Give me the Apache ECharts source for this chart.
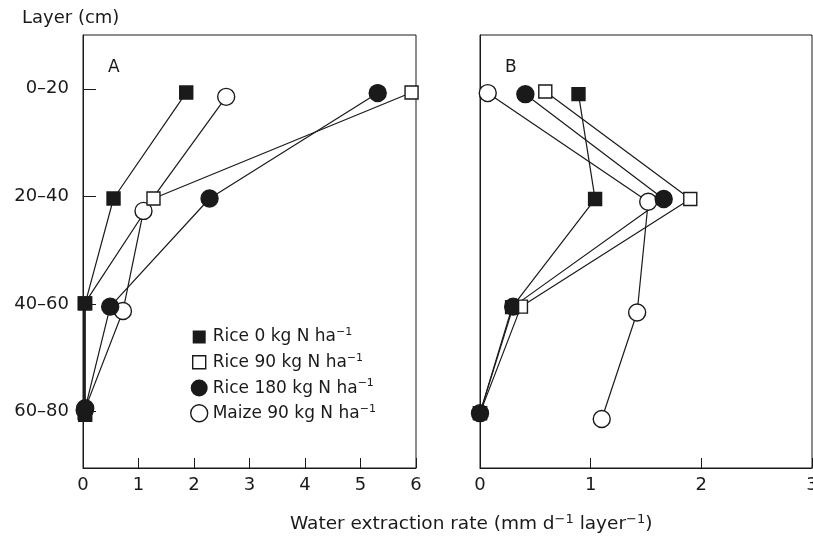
<!DOCTYPE html>
<html>
<head>
<meta charset="utf-8">
<script src="https://cdn.jsdelivr.net/npm/echarts@6/dist/echarts.min.js"></script>
<style>html,body{margin:0;padding:0;background:#fff}#main{width:813px;height:537px}</style>
</head>
<body>
<div id="main"></div>
<script>
// soil layers: mid depth (cm) and label
var layerMid = [10, 30, 50, 70];
var layerLabels = ['0–20', '20–40', '40–60', '60–80'];

// [water extraction rate, plotted depth]
var rice0A   = [[1.86, 10.7], [0.55, 30.4], [0.04, 49.9], [0.04, 70.6]];
var rice90A  = [[5.92, 10.7], [1.27, 30.4], [0.03, 49.9], [0.03, 70.3]];
var rice180A = [[5.31, 10.8], [2.28, 30.4], [0.49, 50.5], [0.04, 69.4]];
var maizeA   = [[2.58, 11.5], [1.09, 32.7], [0.72, 51.3], [0.03, 69.7]];

var rice0B   = [[0.89, 11.0], [1.04, 30.5], [0.29, 50.6], [0.00, 70.3]];
var rice90B  = [[0.59, 10.5], [1.90, 30.5], [0.37, 50.5], [0.00, 70.3]];
var rice180B = [[0.41, 11.0], [1.66, 30.5], [0.30, 50.5], [0.00, 70.3]];
var maizeB   = [[0.07, 10.8], [1.52, 31.0], [1.42, 51.6], [1.10, 71.4]];

var names = ['Rice 0 kg N ha', 'Rice 90 kg N ha', 'Rice 180 kg N ha', 'Maize 90 kg N ha'];

var dom = document.getElementById('main');
var myChart = echarts.init(dom);
var font = 'DejaVu Sans';
var ink = '#1a1a1a';

var styles = {
    'Rice 0 kg N ha':   {symbol: 'rect', size: 13, fill: ink},
    'Rice 90 kg N ha':  {symbol: 'rect', size: 13, fill: '#fff'},
    'Rice 180 kg N ha': {symbol: 'circle', size: 17, fill: ink},
    'Maize 90 kg N ha': {symbol: 'circle', size: 17, fill: '#fff'}
};

function mkSeries(name, data, idx) {
    var s = styles[name];
    return {
        name: name,
        type: 'line',
        xAxisIndex: idx,
        yAxisIndex: idx,
        data: data,
        symbol: s.symbol,
        symbolSize: s.size,
        clip: false,
        lineStyle: {color: ink, width: 1.2},
        itemStyle: {color: s.fill, borderColor: ink, borderWidth: 1.4, opacity: 1},
        emphasis: {disabled: true}
    };
}

function xAxis(idx, max) {
    return {
        gridIndex: idx, type: 'value', min: 0, max: max, interval: 1,
        axisLine: {onZero: false, lineStyle: {color: ink, width: 1}},
        axisTick: {inside: true, length: 10, lineStyle: {color: ink}},
        axisLabel: {color: ink, fontFamily: font, fontSize: 18, margin: 8},
        splitLine: {show: false}
    };
}

function yAxis(idx, labels) {
    return {
        gridIndex: idx, type: 'value', inverse: true, min: 0, max: 80.5,
        axisLine: {onZero: false, lineStyle: {color: ink, width: 1}},
        axisTick: {show: labels, inside: true, length: 13, customValues: layerMid, lineStyle: {color: ink}},
        axisLabel: {
            show: labels, customValues: layerMid, color: ink, fontFamily: font, fontSize: 18, margin: 14,
            formatter: function (v) { return layerLabels[layerMid.indexOf(v)]; }
        },
        splitLine: {show: false}
    };
}

var legendData = names.map(function (n) {
    var s = styles[n];
    return {
        name: n,
        icon: s.symbol === 'rect' ? 'path://M0,0M17,17M2,2h13v13h-13z' : 'circle',
        itemStyle: {color: s.fill, borderColor: ink, borderWidth: s.fill === ink ? 0 : 1.4}
    };
});

option = {
    backgroundColor: '#fff',
    animation: false,
    grid: [
        {left: 83, top: 35, width: 333, height: 433, show: true, borderColor: ink, borderWidth: 1, outerBoundsMode: 'none'},
        {left: 480, top: 35, width: 332, height: 433, show: true, borderColor: ink, borderWidth: 1, outerBoundsMode: 'none'}
    ],
    xAxis: [xAxis(0, 6), xAxis(1, 3)],
    yAxis: [yAxis(0, true), yAxis(1, false)],
    legend: {
        data: legendData,
        orient: 'vertical',
        left: 185,
        top: 322,
        itemWidth: 17,
        itemHeight: 17,
        itemGap: 6.7,
        selectedMode: false,
        formatter: function (n) { return '{t|' + n + '}{s|−1}'; },
        textStyle: {
            color: ink, fontFamily: font, fontSize: 17,
            rich: {
                t: {fontFamily: font, fontSize: 17, color: ink, lineHeight: 20},
                s: {fontFamily: font, fontSize: 11, color: ink, lineHeight: 20, verticalAlign: 'top'}
            }
        }
    },
    graphic: [
        {type: 'text', left: 22, top: 9, style: {text: 'Layer (cm)', font: '18px "DejaVu Sans"', fill: ink}},
        {type: 'text', left: 108, top: 59, style: {text: 'A', font: '17px "DejaVu Sans"', fill: ink}},
        {type: 'text', left: 505, top: 59, style: {text: 'B', font: '17px "DejaVu Sans"', fill: ink}},
        {
            type: 'text', left: 290, top: 513,
            style: {
                text: '{t|Water extraction rate (mm d}{s|−1}{t| layer}{s|−1}{t|)}',
                fill: ink,
                rich: {
                    t: {fontFamily: font, fontSize: 18.5, fill: ink, lineHeight: 23},
                    s: {fontFamily: font, fontSize: 13, fill: ink, lineHeight: 23, verticalAlign: 'top'}
                }
            }
        }
    ],
    series: [
        mkSeries('Maize 90 kg N ha', maizeA, 0),
        mkSeries('Rice 90 kg N ha', rice90A, 0),
        mkSeries('Rice 0 kg N ha', rice0A, 0),
        mkSeries('Rice 180 kg N ha', rice180A, 0),
        mkSeries('Maize 90 kg N ha', maizeB, 1),
        mkSeries('Rice 180 kg N ha', rice180B, 1),
        mkSeries('Rice 90 kg N ha', rice90B, 1),
        mkSeries('Rice 0 kg N ha', rice0B, 1)
    ]
};

if (option && typeof option === 'object') {
    myChart.setOption(option, true);
}
</script>
</body>
</html>
